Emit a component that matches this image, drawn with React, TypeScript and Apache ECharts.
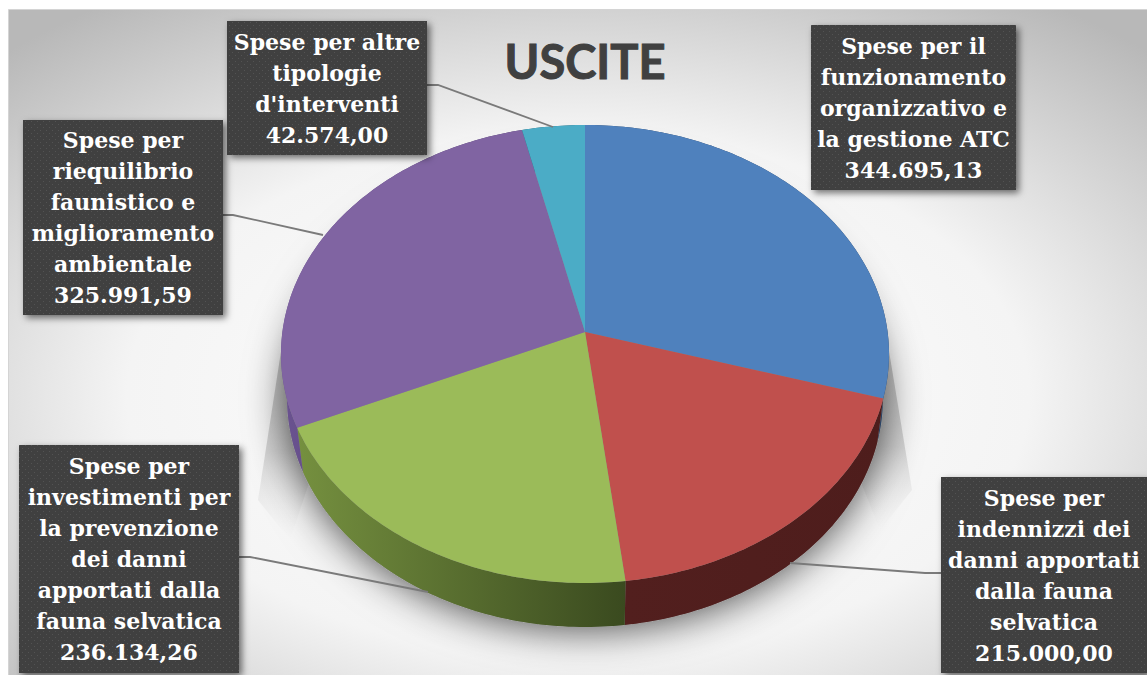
import React, { useEffect, useRef } from "react";
import * as echarts from "echarts";

const categories = [
  "Spese per il\nfunzionamento\norganizzativo e\nla gestione ATC",
  "Spese per\nindennizzi dei\ndanni apportati\ndalla fauna\nselvatica",
  "Spese per\ninvestimenti per\nla prevenzione\ndei danni\napportati dalla\nfauna selvatica",
  "Spese per\nriequilibrio\nfaunistico e\nmiglioramento\nambientale",
  "Spese per altre\ntipologie\nd'interventi",
];
const values = [344695.13, 215000.0, 236134.26, 325991.59, 42574.0];
const valueLabels = ["344.695,13", "215.000,00", "236.134,26", "325.991,59", "42.574,00"];
const topColors = ["#4F81BD", "#C0504D", "#9BBB59", "#8064A2", "#4BACC6"];

// label box: x0, y0, x1, y1
const boxes = [
  [811, 25, 1016, 190],
  [941, 477, 1147, 673],
  [19, 445, 239, 673],
  [23, 120, 223, 315],
  [227, 21, 427, 155],
];
const leaders: number[][][] = [
  [],
  [[941, 573], [925, 573], [790, 563]],
  [[239, 557], [250, 557], [428, 592]],
  [[223, 215], [233, 215], [323, 235]],
  [[427, 85], [438, 85], [553, 127]],
];

const total = values.reduce((a, b) => a + b, 0);
const CX = 585, CY = 354, RX = 304, RY = 229, K = -0.096, DEPTH = 44, BOTTOM_RX = 298;

function rim(turn: number, rx: number, dy: number): number[] {
  const a = turn * Math.PI * 2;
  const u = Math.sin(a), v = -Math.cos(a);
  const d = 1 + K * v;
  return [CX + (rx * u * Math.sqrt(1 - K * K)) / d, CY + dy + (RY * (v + K)) / d];
}
function arc(t0: number, t1: number, rx: number, dy: number): number[][] {
  const n = Math.max(2, Math.ceil((t1 - t0) * 360));
  const pts: number[][] = [];
  for (let i = 0; i <= n; i++) pts.push(rim(t0 + ((t1 - t0) * i) / n, rx, dy));
  return pts;
}
function startOf(i: number): number {
  let s = 0;
  for (let j = 0; j < i; j++) s += values[j];
  return s / total;
}

function sideFill(i: number): any {
  const stops: string[][] = [
    ["#2c4464", "#2c4464"],
    ["#521f1e", "#4e1d1c"],
    ["#75903f", "#3a4a1f"],
    ["#6a5290", "#4a3a66"],
    ["#2a6070", "#2a6070"],
  ];
  return new echarts.graphic.LinearGradient(0, 0, 1, 0, [
    { offset: 0, color: stops[i][0] },
    { offset: 1, color: stops[i][1] },
  ]);
}

function wedge(points: number[][]): any {
  return {
    type: "polygon",
    z: -5,
    silent: true,
    shape: { points },
    style: {
      fill: new echarts.graphic.LinearGradient(0, 0, 0, 1, [
        { offset: 0, color: "rgba(175,175,175,0.75)" },
        { offset: 0.55, color: "rgba(190,190,190,0.6)" },
        { offset: 1, color: "rgba(225,225,225,0)" },
      ]),
    },
  };
}

function makeDots(): HTMLCanvasElement {
  const c = document.createElement("canvas");
  c.width = 6;
  c.height = 6;
  const g = c.getContext("2d")!;
  g.fillStyle = "#404040";
  g.fillRect(0, 0, 6, 6);
  g.fillStyle = "#525252";
  g.fillRect(1, 1, 1, 1);
  g.fillRect(4, 4, 1, 1);
  return c;
}

export default function App() {
  const ref = useRef<HTMLDivElement>(null);
  useEffect(() => {
    const chart = echarts.init(ref.current!, undefined, { renderer: "svg" });
    const dots = makeDots();
    chart.setOption({
      animation: false,
      tooltip: { show: false },
      title: {
        text: "USCITE",
        left: 580,
        top: 32,
        textAlign: "center",
        textStyle: {
          fontFamily: "Lato",
          fontWeight: "bold",
          fontSize: 47,
          color: "#404040",
          textBorderColor: "#404040",
          textBorderWidth: 1,
        },
      },
      graphic: [
        {
          type: "rect",
          z: -10,
          silent: true,
          shape: { x: 8.5, y: 9.5, width: 1139, height: 666 },
          style: {
            fill: new echarts.graphic.RadialGradient(0.5, 0.58, 0.72, [
              { offset: 0, color: "#ffffff" },
              { offset: 0.55, color: "#f4f4f4" },
              { offset: 1, color: "#b8b8b8" },
            ]),
            stroke: "#d4d4d4",
            lineWidth: 1,
          },
        },
        wedge([[888, 345], [912, 490], [880, 530], [860, 480]]),
        wedge([[282, 345], [258, 500], [290, 540], [310, 480]]),
      ],
      series: [
        {
          type: "custom",
          coordinateSystem: "none",
          silent: true,
          z: 2,
          data: [0],
          renderItem: () => ({
            type: "polygon",
            shape: { points: arc(0, 1, BOTTOM_RX, DEPTH) },
            style: {
              fill: "#888888",
              shadowBlur: 42,
              shadowOffsetY: 2,
              shadowColor: "rgba(0,0,0,0.72)",
            },
          }),
        },
        {
          type: "custom",
          coordinateSystem: "none",
          silent: true,
          z: 3,
          data: values,
          renderItem: (p: any) => {
            const i = p.dataIndex;
            const s = startOf(i);
            const e = s + values[i] / total;
            const pts = arc(s, e, RX, 0).concat(arc(s, e, BOTTOM_RX, DEPTH).reverse());
            return { type: "polygon", shape: { points: pts }, style: { fill: sideFill(i) } };
          },
        },
        {
          type: "custom",
          coordinateSystem: "none",
          silent: true,
          z: 4,
          data: values,
          renderItem: (p: any) => {
            const i = p.dataIndex;
            const s = startOf(i);
            const e = s + values[i] / total;
            const pts = [[CX, CY + RY * K]].concat(arc(s, e, RX, 0));
            return { type: "polygon", shape: { points: pts }, style: { fill: topColors[i] } };
          },
        },
        {
          type: "custom",
          coordinateSystem: "none",
          silent: true,
          z: 5,
          data: values,
          renderItem: (p: any) => {
            const i = p.dataIndex;
            const [x0, y0, x1, y1] = boxes[i];
            const children: any[] = [];
            if (leaders[i].length) {
              children.push({
                type: "polyline",
                shape: { points: leaders[i] },
                style: { fill: "none", stroke: "#7a7a7a", lineWidth: 1.8 },
              });
            }
            children.push({
              type: "rect",
              shape: { x: x0, y: y0, width: x1 - x0, height: y1 - y0 },
              style: {
                fill: { image: dots, repeat: "repeat" },
                shadowBlur: 7,
                shadowOffsetX: 3,
                shadowOffsetY: 3,
                shadowColor: "rgba(0,0,0,0.55)",
              },
            });
            children.push({
              type: "text",
              style: {
                x: (x0 + x1) / 2,
                y: (y0 + y1) / 2,
                text: categories[i] + "\n" + valueLabels[i],
                align: "center",
                verticalAlign: "middle",
                fill: "#ffffff",
                fontFamily: "DejaVu Serif",
                fontWeight: "bold",
                fontSize: 22,
                lineHeight: 31,
              },
            });
            return { type: "group", children };
          },
        },
      ],
    });
    return () => chart.dispose();
  }, []);
  return (
    <div style={{ position: "fixed", left: 0, top: 0, width: 1147, height: 675, background: "#ffffff" }}>
      <div ref={ref} style={{ width: 1147, height: 675 }} />
    </div>
  );
}
